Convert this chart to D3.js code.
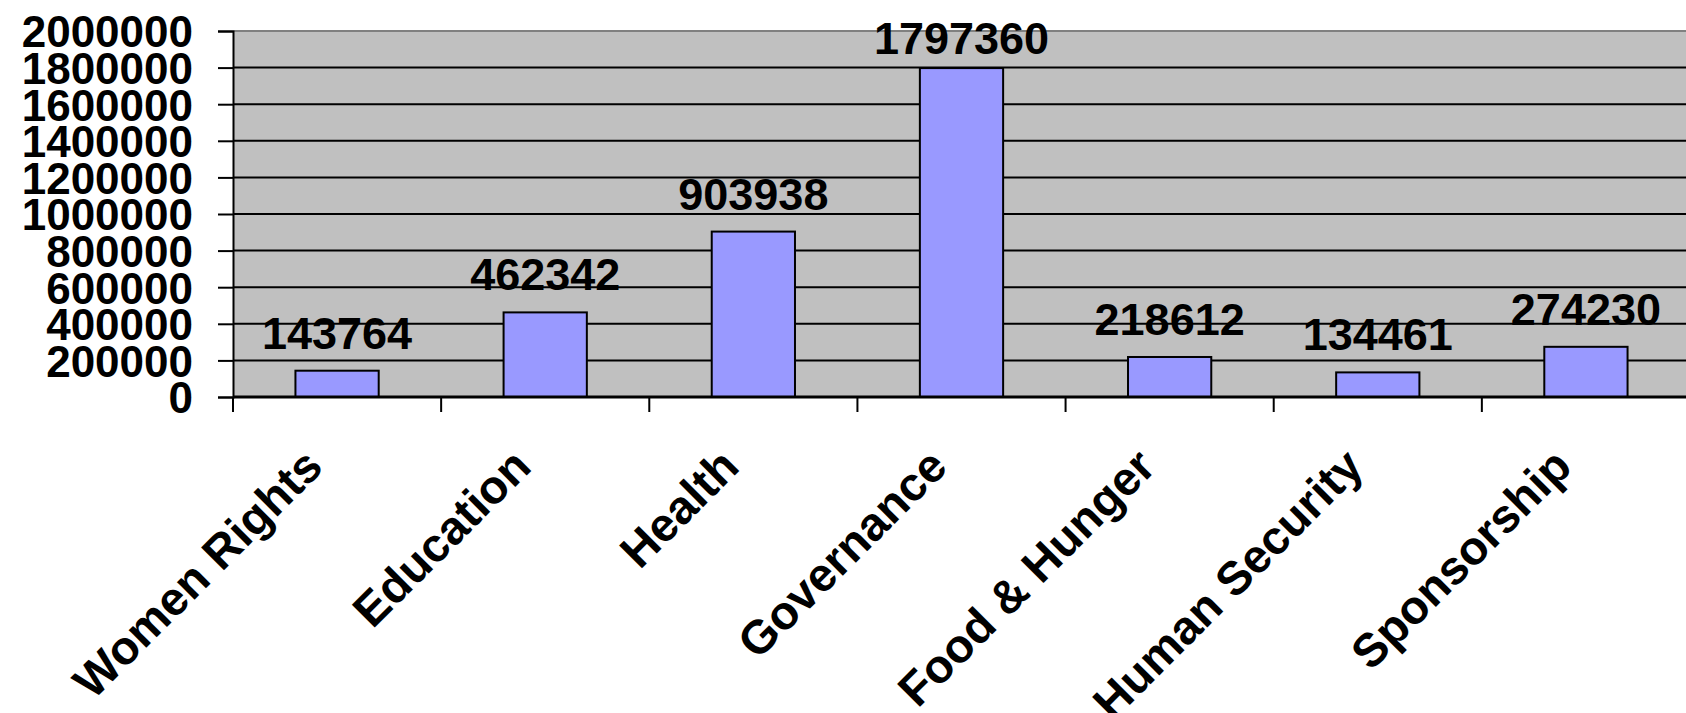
<!DOCTYPE html>
<html>
<head>
<meta charset="utf-8">
<script src="https://cdn.jsdelivr.net/npm/d3@7"></script>
<style>
  body { margin: 0; background: #fff; }
  svg text { font-family: "Liberation Sans", Arial, sans-serif; font-weight: bold; fill: #000; }
</style>
</head>
<body>
<svg id="chart" width="1686" height="713"></svg>
<script>
// values
const categories = ['Women Rights', 'Education', 'Health', 'Governance', 'Food & Hunger', 'Human Security', 'Sponsorship']
const amounts = [143764, 462342, 903938, 1797360, 218612, 134461, 274230]
const yTicks = [0, 200000, 400000, 600000, 800000, 1000000, 1200000, 1400000, 1600000, 1800000, 2000000]

const W = 1686, H = 713
const plot = {left: 233, top: 31, bottom: 397, right: 1690}

let svg = d3.select('#chart')

let x = d3.scaleBand()
  .domain(categories)
  .range([plot.left, plot.right])
  .paddingInner(0.6)
  .paddingOuter(0.3)
// same categories, no padding: used for tick positions at band edges
let xEdge = d3.scaleBand()
  .domain(categories)
  .range([plot.left, plot.right])

let y = d3.scaleLinear()
  .domain([0, 2000000])
  .range([plot.bottom, plot.top])

// grey plot area
svg.append('rect')
  .attr('x', plot.left)
  .attr('y', plot.top)
  .attr('width', plot.right - plot.left)
  .attr('height', plot.bottom - plot.top)
  .attr('fill', '#c0c0c0')

// top border is grey
svg.append('line')
  .attr('x1', plot.left).attr('x2', plot.right)
  .attr('y1', plot.top).attr('y2', plot.top)
  .attr('stroke', '#808080').attr('stroke-width', 2)

// gridlines
svg.append('g')
  .selectAll('line')
  .data(yTicks.filter(t => t > 0 && t < 2000000))
  .enter()
  .append('line')
  .attr('x1', plot.left).attr('x2', plot.right)
  .attr('y1', d => y(d)).attr('y2', d => y(d))
  .attr('stroke', '#000').attr('stroke-width', 2)

// y axis
let yAxis = svg.append('g')
  .attr('transform', `translate(${plot.left},0)`)
  .call(d3.axisLeft(y).tickValues(yTicks).tickSize(15).tickPadding(25).tickFormat(d3.format('d')))
yAxis.select('.domain').attr('stroke', '#000').attr('stroke-width', 2)
yAxis.selectAll('.tick line').attr('stroke', '#000').attr('stroke-width', 2)
yAxis.selectAll('.tick text')
  .style('font-size', '44px')
  .style('font-family', '"Liberation Sans", Arial, sans-serif')
  .style('font-weight', 'bold')
  .attr('dy', '0.36em')

// bars
svg.append('g')
  .selectAll('rect')
  .data(amounts)
  .enter()
  .append('rect')
  .attr('x', (d, i) => x(categories[i]))
  .attr('y', d => y(d))
  .attr('width', x.bandwidth())
  .attr('height', d => y(0) - y(d))
  .attr('fill', '#9999ff')
  .attr('stroke', '#000')
  .attr('stroke-width', 2)

// value labels
svg.append('g')
  .selectAll('text')
  .data(amounts)
  .enter()
  .append('text')
  .attr('x', (d, i) => x(categories[i]) + x.bandwidth() / 2)
  .attr('y', d => Math.max(y(d) - 22, 54))
  .attr('text-anchor', 'middle')
  .style('font-size', '45px')
  .text(d => d)

// x axis line and ticks at band edges
svg.append('line')
  .attr('x1', plot.left).attr('x2', plot.right)
  .attr('y1', plot.bottom).attr('y2', plot.bottom)
  .attr('stroke', '#000').attr('stroke-width', 3)

let edges = categories.map(c => xEdge(c)).concat([plot.right])
svg.append('g')
  .selectAll('line')
  .data(edges)
  .enter()
  .append('line')
  .attr('x1', d => d).attr('x2', d => d)
  .attr('y1', plot.bottom).attr('y2', plot.bottom + 15)
  .attr('stroke', '#000').attr('stroke-width', 2)

// rotated category labels
svg.append('g')
  .selectAll('text')
  .data(categories)
  .enter()
  .append('text')
  .attr('transform', d => `translate(${xEdge(d) + xEdge.bandwidth() / 2 - 12},${plot.bottom + 72}) rotate(-45)`)
  .attr('text-anchor', 'end')
  .style('font-size', '47px')
  .text(d => d)
</script>
</body>
</html>
